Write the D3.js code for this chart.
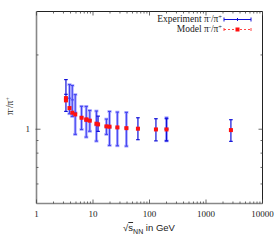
<!DOCTYPE html>
<html><head><meta charset="utf-8">
<script src="https://cdn.jsdelivr.net/npm/d3@7"></script>
<style>html,body{margin:0;padding:0;background:#fff;}svg{display:block;}</style>
</head><body>
<script>
// ---- data ----
const xTicks = [1, 10, 100, 1000, 10000];
const yTickLabels = [1];
const yMinorTicks = [0.6, 0.7, 0.8, 0.9, 2];

// experiment (dark set)
const expDarkS     = [3.32, 12.3, 62.4, 130, 200, 2760];
const expDarkRatio = [1.385, 1.055, 1.010, 1.000, 1.000, 0.993];
const expDarkErr   = [0.204, 0.075, 0.103, 0.103, 0.103, 0.100];

// experiment (light set)
const expLightS     = [3.84, 4.3, 4.85, 6.27, 7.6, 8.76, 11.5, 17.3, 19.6, 27, 39, 200];
const expLightRatio = [1.336, 1.315, 1.167, 1.118, 1.083, 1.086, 1.040, 1.026, 1.020, 1.015, 1.012, 1.005];
const expLightErr   = [0.180, 0.188, 0.214, 0.120, 0.154, 0.105, 0.145, 0.073, 0.160, 0.158, 0.158, 0.108];

// model
const modelS     = [3.32, 3.32, 3.84, 4.3, 4.85, 6.27, 7.6, 7.7, 8.76, 11.5, 12.3, 17.3, 19.6, 27, 39, 62.4, 130, 200, 2760];
const modelRatio = [1.337, 1.309, 1.218, 1.167, 1.148, 1.113, 1.095, 1.093, 1.083, 1.053, 1.046, 1.027, 1.024, 1.017, 1.010, 1.005, 0.998, 0.998, 0.992];

// ---- chart ----
const W = 280, H = 245;
const L = 36.5, R = 262.5, T = 11.5, B = 203.5;
const svg = d3.select("body").append("svg").attr("width", W).attr("height", H);

const x = d3.scaleLog().domain([1, 10000]).range([L, R]);
const y = d3.scaleLog().domain([0.5, 3]).range([B, T]);

const serif = "'Liberation Serif','Times New Roman',serif";
const sans = "'Liberation Sans',Arial,sans-serif";

// frame
svg.append("line").attr("x1", L).attr("x2", R).attr("y1", T).attr("y2", T).attr("stroke", "#222").attr("stroke-width", 1);
svg.append("line").attr("x1", R).attr("x2", R).attr("y1", T).attr("y2", B).attr("stroke", "#222").attr("stroke-width", 1);
svg.append("line").attr("x1", L).attr("x2", L).attr("y1", T).attr("y2", B).attr("stroke", "#888").attr("stroke-width", 1.6);
svg.append("line").attr("x1", L).attr("x2", R).attr("y1", B).attr("y2", B).attr("stroke", "#888").attr("stroke-width", 1.6);

// x ticks (major + minor) on bottom and top
const xMinor = [];
for (let d = 1; d < 10000; d *= 10) for (let k = 2; k <= 9; k++) xMinor.push(d * k);
const tg = svg.append("g").attr("stroke", "#444").attr("stroke-width", 0.8);
xTicks.forEach(v => {
  tg.append("line").attr("x1", x(v)).attr("x2", x(v)).attr("y1", B).attr("y2", B - 4);
  tg.append("line").attr("x1", x(v)).attr("x2", x(v)).attr("y1", T).attr("y2", T + 4);
});
xMinor.forEach(v => {
  tg.append("line").attr("x1", x(v)).attr("x2", x(v)).attr("y1", B).attr("y2", B - 2);
  tg.append("line").attr("x1", x(v)).attr("x2", x(v)).attr("y1", T).attr("y2", T + 2);
});
yTickLabels.forEach(v => {
  tg.append("line").attr("x1", L - 1).attr("x2", L + 4).attr("y1", y(v)).attr("y2", y(v));
  tg.append("line").attr("x1", R).attr("x2", R - 4).attr("y1", y(v)).attr("y2", y(v));
});
yMinorTicks.forEach(v => {
  tg.append("line").attr("x1", L).attr("x2", L + 2).attr("y1", y(v)).attr("y2", y(v));
  tg.append("line").attr("x1", R).attr("x2", R - 2).attr("y1", y(v)).attr("y2", y(v));
});

// tick labels
svg.append("g").selectAll("text").data(xTicks).join("text")
  .attr("x", d => x(d)).attr("y", 217).attr("text-anchor", "middle")
  .attr("font-family", serif).attr("font-size", 9).attr("fill", "#222").text(d => d);
svg.append("g").selectAll("text").data(yTickLabels).join("text")
  .attr("x", 30).attr("y", d => y(d) + 3).attr("text-anchor", "end")
  .attr("font-family", serif).attr("font-size", 9).attr("fill", "#222").text(d => d);

// axis titles
const xt = svg.append("text").attr("x", 149).attr("y", 231).attr("text-anchor", "middle")
  .attr("font-family", sans).attr("font-size", 9.5).attr("fill", "#222");
xt.append("tspan").text("√");
xt.append("tspan").attr("text-decoration", "overline").text("s");
xt.append("tspan").attr("font-size", 7).attr("dy", 2.5).text("NN");
xt.append("tspan").attr("dy", -2.5).text(" in GeV");

const yt = svg.append("text").attr("transform", "translate(13,106) rotate(-90)").attr("text-anchor", "middle")
  .attr("font-family", serif).attr("font-size", 9.5).attr("fill", "#222");
yt.append("tspan").text("π");
yt.append("tspan").attr("font-size", 6.5).attr("dy", -3.5).text("-");
yt.append("tspan").attr("dy", 3.5).text("/π");
yt.append("tspan").attr("font-size", 6.5).attr("dy", -3.5).text("+");

// error bars
function bars(S, V, E, color, width, opacity, cap) {
  const g = svg.append("g").attr("stroke", color).attr("stroke-width", width).attr("opacity", opacity);
  S.forEach((s, i) => {
    const xc = x(s), y1 = y(V[i] + E[i]), y0 = y(V[i] - E[i]);
    g.append("line").attr("x1", xc).attr("x2", xc).attr("y1", y1).attr("y2", y0);
    g.append("line").attr("x1", xc - cap).attr("x2", xc + cap).attr("y1", y1).attr("y2", y1);
    g.append("line").attr("x1", xc - cap).attr("x2", xc + cap).attr("y1", y0).attr("y2", y0);
    g.append("line").attr("x1", xc - cap).attr("x2", xc + cap).attr("y1", y(V[i])).attr("y2", y(V[i]));
  });
}
bars(expLightS, expLightRatio, expLightErr, "#a8a8ff", 2.8, 1, 2);
bars(expLightS, expLightRatio, expLightErr, "#4040f0", 1.0, 1, 1.6);
bars(expDarkS, expDarkRatio, expDarkErr, "#1010d8", 1.2, 1, 1.8);

// model points
svg.append("g").selectAll("rect").data(modelS).join("rect")
  .attr("x", d => x(d) - 2).attr("y", (d, i) => y(modelRatio[i]) - 2)
  .attr("width", 4).attr("height", 4).attr("fill", "#ff1010");

// legend
const lx0 = 224, lx1 = 251;
svg.append("text").attr("x", 222).attr("y", 22).attr("text-anchor", "end")
  .attr("font-family", serif).attr("font-size", 9.5).attr("fill", "#222")
  .html('Experiment π<tspan font-size="6.5" dy="-3.5">-</tspan><tspan dy="3.5">/π</tspan><tspan font-size="6.5" dy="-3.5">+</tspan>');
svg.append("text").attr("x", 222).attr("y", 32).attr("text-anchor", "end")
  .attr("font-family", serif).attr("font-size", 9.5).attr("fill", "#222")
  .html('Model π<tspan font-size="6.5" dy="-3.5">-</tspan><tspan dy="3.5">/π</tspan><tspan font-size="6.5" dy="-3.5">+</tspan>');
const lg = svg.append("g").attr("stroke", "#1010d8").attr("stroke-width", 1);
lg.append("line").attr("x1", lx0).attr("x2", lx1).attr("y1", 19.5).attr("y2", 19.5);
[lx0, lx1].forEach(v => lg.append("line").attr("x1", v).attr("x2", v).attr("y1", 17.5).attr("y2", 21.5));
lg.append("line").attr("x1", (lx0 + lx1) / 2).attr("x2", (lx0 + lx1) / 2).attr("y1", 18).attr("y2", 21);
const lr = svg.append("g").attr("stroke", "#ff3030").attr("stroke-width", 0.9);
lr.append("line").attr("x1", lx0).attr("x2", lx1).attr("y1", 29.5).attr("y2", 29.5).attr("stroke-dasharray", "2,2");
[lx0, lx1].forEach(v => lr.append("line").attr("x1", v).attr("x2", v).attr("y1", 28).attr("y2", 31));
svg.append("rect").attr("x", (lx0 + lx1) / 2 - 2).attr("y", 27.5).attr("width", 4).attr("height", 4).attr("fill", "#ff1010");
</script>
</body></html>
